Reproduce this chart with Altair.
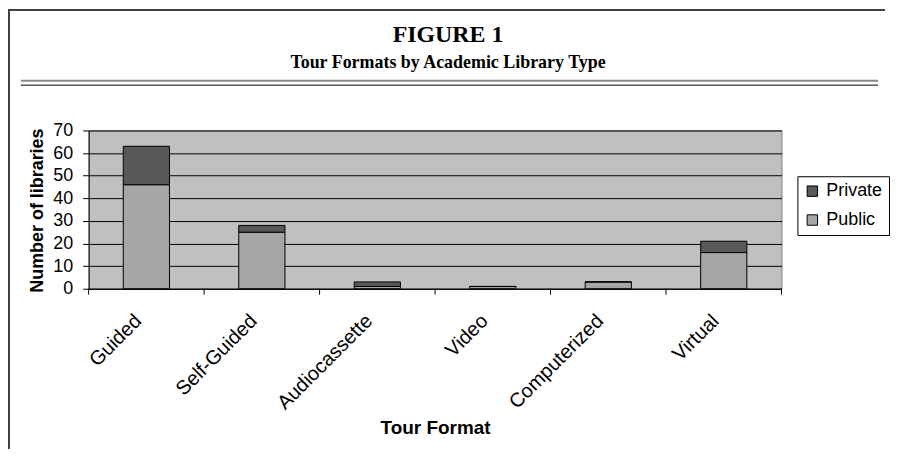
import altair as alt
import pandas as pd

formats = ["Guided", "Self-Guided", "Audiocassette", "Video", "Computerized", "Virtual"]
public = [46, 25, 1, 1, 3, 16]
private = [17, 3, 2, 0, 0, 5]
series = ["Private", "Public"]
colors = ["#595959", "#a6a6a6"]
y_ticks = [0, 10, 20, 30, 40, 50, 60, 70]

rows = []
for f, pu, pr in zip(formats, public, private):
    rows.append({"format": f, "type": "Public", "value": pu, "ord": 0})
    rows.append({"format": f, "type": "Private", "value": pr, "ord": 1})
df = pd.DataFrame(rows)

W, H = 696, 159
SANS = "Liberation Sans"
SERIF = "Liberation Serif"

xscale = alt.Scale(domain=formats, paddingInner=0.6, paddingOuter=0.3)
xaxis = alt.Axis(title="Tour Format", labelAngle=-45, labelAlign="right",
                 labelBaseline="bottom", labelPadding=36, labelOffset=-1, ticks=False,
                 domainColor="black", labelFont=SANS, labelFontSize=20,
                 labelColor="black", titleFont=SANS, titleFontSize=19,
                 titleFontWeight="bold", titleColor="black",
                 titleY=139, titleBaseline="middle")

bars = alt.Chart(df).mark_bar(stroke="black", strokeWidth=1).encode(
    x=alt.X("format:N", scale=xscale, sort=formats, axis=xaxis),
    y=alt.Y("value:Q", stack="zero",
            scale=alt.Scale(domain=[0, 70], nice=False),
            axis=alt.Axis(title="Number of libraries", values=y_ticks, grid=True,
                          gridColor="black", gridOpacity=1, domainColor="black",
                          tickColor="black", tickSize=6, labelPadding=10,
                          labelFont=SANS, labelFontSize=18, labelColor="black",
                          titleFont=SANS, titleFontSize=18, titleFontWeight="bold",
                          titleColor="black", titleX=-51, titleY=80,
                          titleBaseline="middle", titleAngle=270)),
    color=alt.Color("type:N", scale=alt.Scale(domain=series, range=colors),
                    legend=alt.Legend(title=None, orient="none", legendX=712, legendY=46,
                                      strokeColor="black", fillColor="white",
                                      padding=6, symbolType="square", symbolSize=110,
                                      symbolStrokeColor="black", symbolStrokeWidth=1,
                                      symbolOpacity=1,
                                      labelFont=SANS, labelFontSize=18, labelColor="black",
                                      rowPadding=11, labelOffset=5)),
    order=alt.Order("ord:Q"),
)

ticks = alt.Chart(pd.DataFrame({"format": formats})).mark_rule(color="black").encode(
    x=alt.X("format:N", scale=xscale, sort=formats, axis=xaxis),
    xOffset=alt.value(-34.8),
    y=alt.value(H), y2=alt.value(H + 6),
)
blank = alt.Data(values=[{}])
end_tick = alt.Chart(blank).mark_rule(color="black").encode(
    x=alt.value(W), y=alt.value(H), y2=alt.value(H + 6))

title1 = alt.Chart(blank).mark_text(text="FIGURE 1", font=SERIF, fontSize=24,
                                    fontWeight="bold", color="black", baseline="middle").encode(
    x=alt.value(361), y=alt.value(-96))
title2 = alt.Chart(blank).mark_text(text="Tour Formats by Academic Library Type", font=SERIF,
                                    fontSize=18, fontWeight="bold", color="black",
                                    baseline="middle").encode(
    x=alt.value(361), y=alt.value(-68))
rule_gray = alt.Chart(blank).mark_rule(color="#888888", strokeWidth=2).encode(
    x=alt.value(-68), x2=alt.value(793), y=alt.value(-50))
rule_black = alt.Chart(blank).mark_rule(color="black", strokeWidth=1).encode(
    x=alt.value(-68), x2=alt.value(793), y=alt.value(-45.5))
border_left = alt.Chart(blank).mark_rule(color="#404040", strokeWidth=2).encode(
    x=alt.value(-80), y=alt.value(-122), y2=alt.value(320))
border_top = alt.Chart(blank).mark_rule(color="#404040", strokeWidth=2).encode(
    x=alt.value(-80), x2=alt.value(800), y=alt.value(-121))

chart = alt.layer(bars, ticks, end_tick, title1, title2, rule_gray, rule_black,
                  border_left, border_top).properties(
    width=W, height=H,
    autosize=alt.AutoSizeParams(type="none"),
    padding={"left": 81, "top": 122, "right": 110, "bottom": 160},
    background="white",
).configure_view(fill="#c0c0c0", stroke="#808080", strokeWidth=1)

chart.save("out.html", embed_options={"renderer": "svg", "actions": False})
